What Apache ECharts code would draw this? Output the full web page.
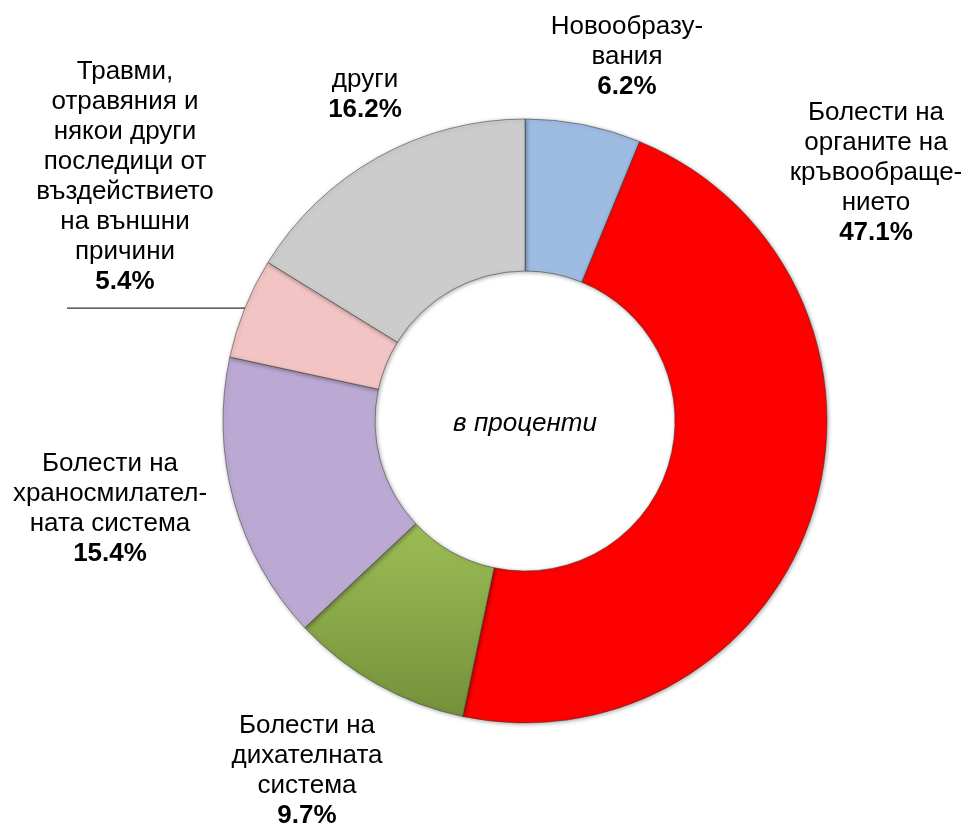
<!DOCTYPE html>
<html>
<head>
<meta charset="utf-8">
<script src="https://cdn.jsdelivr.net/npm/echarts@6/dist/echarts.min.js"></script>
<style>
  html, body { margin: 0; padding: 0; background: #fff; }
  #content_data { width: 970px; height: 830px; }
</style>
</head>
<body>
<div id="content_data"></div>
<script>
// categories, clockwise from 12 o'clock
const categories = [
    'Новообразу-\nвания',
    'Болести на\nорганите на\nкръвообраще-\nнието',
    'Болести на\nдихателната\nсистема',
    'Болести на\nхраносмилател-\nната система',
    'Травми,\nотравяния и\nнякои други\nпоследици от\nвъздействието\nна външни\nпричини',
    'други'
];
const shares = [6.2, 47.1, 9.7, 15.4, 5.4, 16.2];

const colors = [
    '#9ebce1',
    '#ff0000',
    new echarts.graphic.LinearGradient(0, 0, 0, 1, [
        { offset: 0, color: '#9cbd55' },
        { offset: 1, color: '#74913a' }
    ]),
    '#bba9d3',
    '#f2c4c4',
    '#cccccc'
];

// label block centres (style only)
const labelPos = [
    [627, 57],
    [876, 173],
    [307, 771],
    [110, 509],
    [125, 177],
    [365, 95]
];

const font = 'Arial, "Liberation Sans", sans-serif';

let Chart = echarts.init(document.getElementById('content_data'));

Chart.setOption({
    animation: false,
    graphic: [{
        type: 'text',
        x: 525,
        y: 424,
        style: {
            text: 'в проценти',
            font: 'italic 26px ' + font,
            fill: '#000',
            align: 'center',
            verticalAlign: 'middle'
        }
    }],
    series: [{
        type: 'pie',
        center: [525, 421],
        radius: [150, 302],
        startAngle: 90,
        clockwise: true,
        avoidLabelOverlap: false,
        itemStyle: {
            borderColor: 'rgba(50,50,50,0.5)',
            borderWidth: 1,
            shadowBlur: 4,
            shadowColor: 'rgba(0,0,0,0.35)',
            shadowOffsetX: 1,
            shadowOffsetY: 1
        },
        label: {
            show: true,
            position: 'outside',
            align: 'center',
            fontFamily: font,
            color: '#000',
            formatter: p => '{n|' + p.name.split('\n').join('}\n{n|') + '}\n{v|' + p.value.toFixed(1) + '%}',
            rich: {
                n: { fontSize: 26, lineHeight: 30, fontFamily: font, color: '#000', align: 'center' },
                v: { fontSize: 26, lineHeight: 30, fontFamily: font, fontWeight: 'bold', color: '#000', align: 'center' }
            }
        },
        labelLine: {
            show: false
        },
        labelLayout: function (params) {
            const pos = labelPos[params.dataIndex];
            const out = {
                x: pos[0],
                y: pos[1],
                align: 'center',
                verticalAlign: 'middle'
            };
            if (params.dataIndex === 4 && params.labelLinePoints) {
                const p0 = params.labelLinePoints[0];
                out.labelLinePoints = [p0, [p0[0], p0[1]], [67, p0[1]]];
            }
            return out;
        },
        data: categories.map((name, i) => ({
            name: name,
            value: shares[i],
            itemStyle: { color: colors[i] },
            labelLine: i === 4 ? {
                show: true,
                length: 0,
                length2: 170,
                lineStyle: { color: '#303030', width: 1.2 }
            } : { show: false }
        }))
    }]
});
</script>
</body>
</html>
